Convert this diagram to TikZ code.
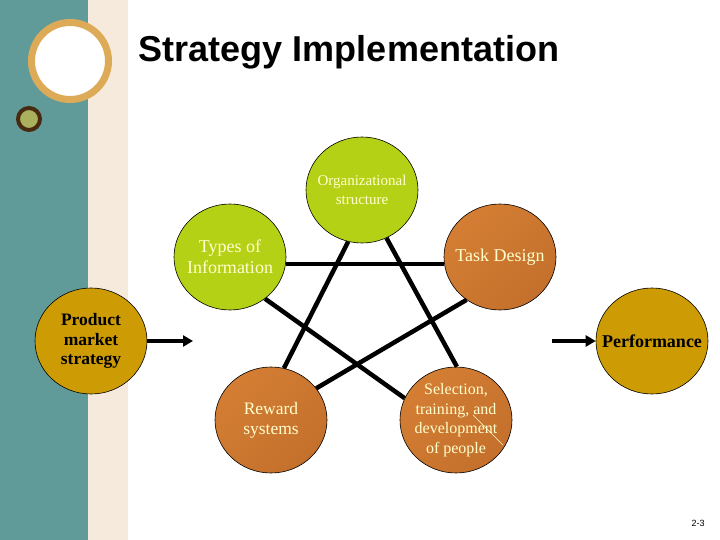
\documentclass[tikz,border=0pt]{standalone}
\usepackage{fontspec}
\setmainfont{Liberation Serif}
\newfontfamily\arialfont{Liberation Sans}
\usetikzlibrary{shapes.geometric,arrows.meta}
\definecolor{bandteal}{RGB}{97,155,153}
\definecolor{bandbeige}{RGB}{245,234,220}
\definecolor{ringgold}{RGB}{221,170,88}
\definecolor{ringbrown}{RGB}{72,42,16}
\definecolor{ringolive}{RGB}{170,176,92}
\definecolor{limegreen}{RGB}{181,209,22}
\definecolor{cream}{RGB}{255,255,204}
\definecolor{orangedark}{RGB}{212,126,52}
\definecolor{orangelight}{RGB}{248,158,60}
\definecolor{orangemid}{RGB}{196,112,44}
\definecolor{goldfill}{RGB}{205,155,4}
\begin{document}
\begin{tikzpicture}[x=1pt,y=-1pt,
	ball/.style={ellipse,draw=black,line width=0.6pt,minimum width=112pt,minimum height=106pt,inner sep=-40pt,align=center},
	lime/.style={ball,fill=limegreen,text=cream},
	orng/.style={ball,top color=orangedark,middle color=orangelight,bottom color=orangemid,shading angle=45,text=cream},
	gold/.style={ball,fill=goldfill,text=black},
	bar/.style={black,line width=4.5pt},
	arr/.style={black,line width=4pt,-{Triangle[length=10pt,width=11pt]}}]
		\useasboundingbox (0,0) rectangle (720,540);
		% slide background
		\fill[white] (0,0) rectangle (720,540);
		\fill[bandteal] (0,0) rectangle (88,540);
		\fill[bandbeige] (88,0) rectangle (128,540);
		\draw[ringgold, line width=7pt, fill=white] (70,61) circle (38.5);
		\draw[ringbrown, line width=4pt, fill=ringolive] (29,119) circle (11);
		\node at (349,52) (title) {\arialfont\fontsize{36}{42}\selectfont\bfseries Strategy Implementation};
		\node at (698,523) (page) {\arialfont\fontsize{9}{10}\selectfont 2-3};
		% the five circles
		\node[lime, font=\fontsize{15}{19}\selectfont] at (362, 190) (org) {Organizational\\structure};
		\node[lime, font=\fontsize{18}{21}\selectfont] at (230, 257) (info) {Types of\\Information};
		\node[orng, font=\fontsize{18}{21}\selectfont] at (500, 257) (task) {Task Design};
		\node[orng, font=\fontsize{17.5}{20}\selectfont] at (271, 420) (reward) {Reward\\systems};
		\node[orng, font=\fontsize{16}{19.5}\selectfont] at (456, 420) (sel) {Selection,\\training, and\\development\\of people};
		\node[gold, font=\fontsize{17.5}{19.5}\selectfont\bfseries] at (91, 341) (pms) {Product\\market\\strategy};
		\node[gold, font=\fontsize{18}{21}\selectfont\bfseries] at (652, 341) (perf) {Performance};
		\draw[cream, line width=0.6pt] (473,415) -- (503,445);
		% star
		\draw [bar] (info.-7) -- (task.187);
		\draw [bar] (org.255) -- (reward.76);
		\draw [bar] (org.297) -- (sel.89);
		\draw [bar] (info.310) -- (sel.157);
		\draw [bar] (task.232) -- (reward.35);
		% arrows
		\coordinate (in) at (193, 341);
		\coordinate (out) at (552, 341);
		\draw [arr] (pms) -- (in);
		\draw [arr] (out) -- (perf);
	\end{tikzpicture}
\end{document}
